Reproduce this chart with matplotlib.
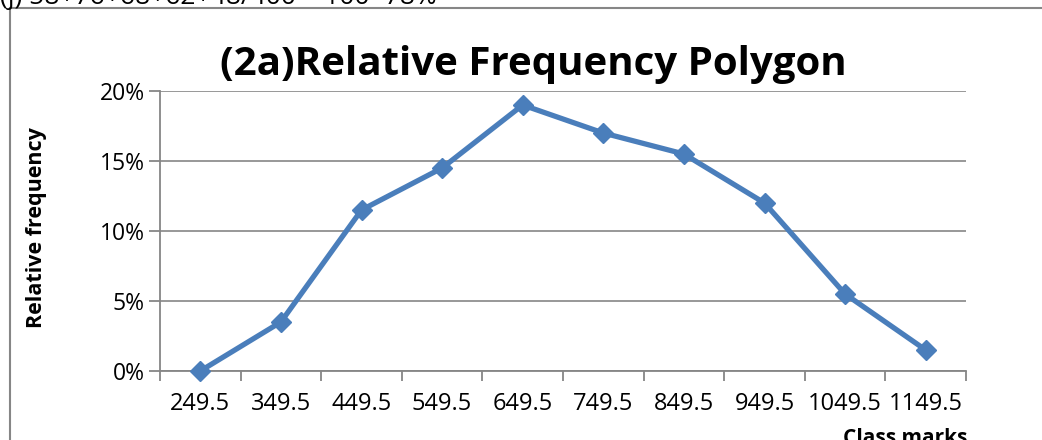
import numpy as np
import matplotlib
matplotlib.use('Agg')
import matplotlib.pyplot as plt
from matplotlib.ticker import FuncFormatter

class_marks = ['249.5', '349.5', '449.5', '549.5', '649.5', '749.5', '849.5', '949.5', '1049.5', '1149.5']
rel_freq = [0.0, 3.5, 11.5, 14.5, 19.0, 17.0, 15.5, 12.0, 5.5, 1.5]

plt.rcParams['font.family'] = ['Open Sans', 'DejaVu Sans']

fig = plt.figure(figsize=(10.42, 4.4), dpi=100)
ax = fig.add_axes([160/1042, 1-371/440, 806/1042, 280/440])

x = np.arange(len(class_marks))
ax.plot(x, rel_freq, color='#4a7ebb', lw=3.8, marker='D', ms=10.5, mec='#4a7ebb', clip_on=False, zorder=3)

ax.set_xlim(-0.5, len(class_marks) - 0.5)
ax.set_ylim(0, 20)
ax.set_yticks([0, 5, 10, 15, 20])
ax.yaxis.set_major_formatter(FuncFormatter(lambda v, p: f'{v:.0f}%'))
ax.set_xticks(np.arange(-0.5, len(class_marks)), labels=[])
ax.set_xticks(x, labels=class_marks, minor=True)
ax.tick_params(axis='x', which='major', length=7, width=1.3, color='#868686', direction='out')
ax.tick_params(axis='x', which='minor', length=0, labelsize=17, pad=15)
ax.tick_params(axis='y', length=8, width=1.3, color='#868686', labelsize=16.5, pad=3)
ax.grid(axis='y', color='#868686', lw=1.2)
ax.set_axisbelow(True)
for s in ['top', 'right']:
    ax.spines[s].set_visible(False)
for s in ['left', 'bottom']:
    ax.spines[s].set_color('#868686')
    ax.spines[s].set_linewidth(1.3)

fig.text(37/1042, 1-228/440, 'Relative frequency', fontsize=15.5, fontweight='bold',
         rotation=90, ha='center', va='center')
fig.text(905/1042, 1-428/440, 'Class marks', fontsize=15, fontweight='bold', ha='center', va='top')
fig.text(533/1042, 1-64/440, '(2a)Relative Frequency Polygon', fontsize=29, fontweight='bold', ha='center', va='center')
fig.text(0, 1-4/440, '(j) 58+76+68+62+48/400 * 100=78%', fontsize=19, ha='left', va='baseline')

# outer chart frame
fig.add_artist(plt.Line2D([10/1042, 10/1042], [0, 1-8/440], color='#868686', lw=1.5))
fig.add_artist(plt.Line2D([10/1042, 1], [1-8/440, 1-8/440], color='#868686', lw=1.5))

fig.savefig('out.png', dpi=100)
